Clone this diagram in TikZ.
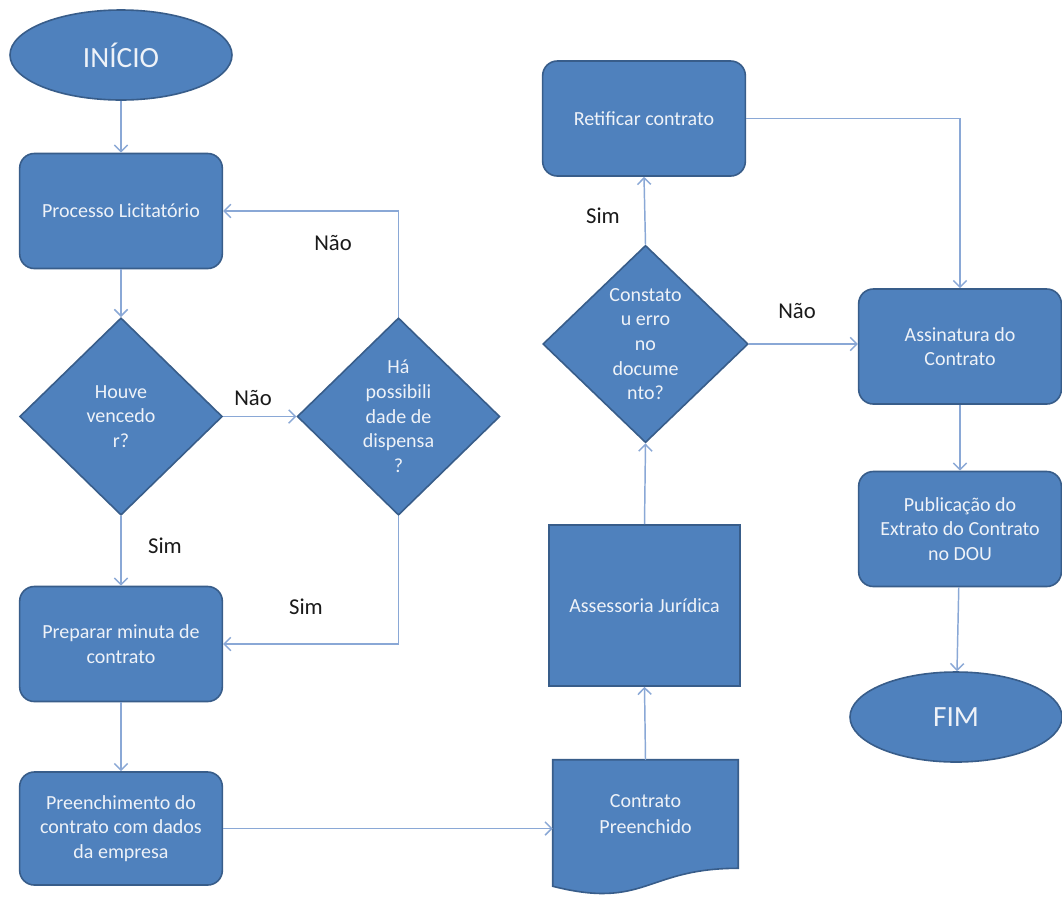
\documentclass[tikz,border=0pt]{standalone}
\usepackage{fontspec}
\setmainfont{Carlito}
\usetikzlibrary{shapes.geometric,arrows.meta,calc,backgrounds}
\definecolor{boxblue}{HTML}{4F81BD}
\definecolor{boxedge}{HTML}{385D8A}
\definecolor{linkblue}{HTML}{8AA8D6}
\definecolor{boxtext}{HTML}{EEF2F8}
\definecolor{labeltext}{HTML}{1A1A1A}
\tikzset{
  shapebase/.style={fill=boxblue, draw=boxedge, line width=1.2pt, text=boxtext,
    font=\fontsize{15}{18.5}\selectfont, align=center, inner sep=0pt},
  procbox/.style={shapebase, rectangle, rounded corners=11pt,
    minimum width=152pt, minimum height=86.25pt},
  plainbox/.style={shapebase, rectangle, minimum width=143.25pt, minimum height=120.75pt},
  decision/.style={shapebase, diamond, aspect=1.03, minimum width=152pt, minimum height=148pt},
  terminal/.style={shapebase, ellipse, minimum height=67.5pt,
    font=\fontsize{22}{26}\selectfont},
  docarea/.style={rectangle, inner sep=0pt, text=boxtext, align=center,
    font=\fontsize{15}{20}\selectfont, minimum width=138.75pt, minimum height=81pt},
  link/.style={draw=linkblue, line width=1.1pt, -{Straight Barb[length=5pt,width=10pt]}},
  answer/.style={text=labeltext, font=\fontsize{17}{20}\selectfont, inner sep=0pt}
}
\begin{document}
\begin{tikzpicture}[x=0.75pt,y=-0.75pt]
  \useasboundingbox (0,0) rectangle (1062,897);

  % left column
  \node[terminal, minimum width=166.5pt] (ini) at (121,55) {INÍCIO};
  \node[procbox] (proc) at (121,211) {Processo Licitatório};
  \node[decision] (venc) at (121,416.5) {Houve\\vencedo\\r?};
  \node[decision] (disp) at (398.5,416.5) {Há\\possibili\\dade de\\dispensa\\?};
  \node[procbox] (prep) at (121,644) {Preparar minuta de\\contrato};
  \node[procbox, minimum height=84.75pt] (pre) at (121,828.5) {Preenchimento do\\contrato com dados\\da empresa};

  % middle column
  \node[docarea] (doc) at (645.5,814) {Contrato\\Preenchido};
  \begin{scope}[on background layer]
    \fill[white] (0,0) rectangle (1062,897);
    \path[fill=boxblue, draw=boxedge, line width=1.2pt]
      (doc.north west) -- (doc.north east) -- (doc.south east)
      .. controls (doc.south) and ($(doc.south)+(0,41.5)$) ..
      ($(doc.south west)+(0,18)$) -- cycle;
  \end{scope}
  \node[plainbox] (jur) at (644.5,605.5) {Assessoria Jurídica};
  \node[decision, minimum width=154pt] (erro) at (645.5,344) {Constato\\u erro\\no\\docume\\nto?};
  \node[procbox] (ret) at (644,118.5) {Retificar contrato};

  % right column
  \node[procbox] (assin) at (960,346.5) {Assinatura do\\Contrato};
  \node[procbox] (pub) at (960,529) {Publicação do\\Extrato do Contrato\\no DOU};
  \node[terminal, minimum width=159pt] (fim) at (956,717) {FIM};

  % connectors
  \draw[link] (ini) -- (proc);
  \draw[link] (proc) -- (venc);
  \draw[link] (venc.east) -- (disp.west);
  \draw[link] (disp.north) |- (proc.east);
  \draw[link] (venc.south) -- (prep.north);
  \draw[link] (disp.south) |- (prep.east);
  \draw[link] (prep) -- (pre);
  \draw[link] (pre.east) -- (pre.east -| doc.west);
  \draw[link] (doc.north) -- (jur.south);
  \draw[link] (jur.north) -- (erro.south);
  \draw[link] (erro.north) -- (ret.south);
  \draw[link] (erro.east) -- (erro.east -| assin.west);
  \draw[link] (ret.east) -| (assin.north);
  \draw[link] (assin) -- (pub);
  \draw[link] (pub) -- (fim);

  % branch answers
  \node[answer] (a1) at (253,398) {Não};
  \node[answer] (a2) at (333,243) {Não};
  \node[answer] (a3) at (165,546) {Sim};
  \node[answer] (a4) at (306,607) {Sim};
  \node[answer] (a5) at (603,216) {Sim};
  \node[answer] (a6) at (797,311) {Não};
\end{tikzpicture}
\end{document}
